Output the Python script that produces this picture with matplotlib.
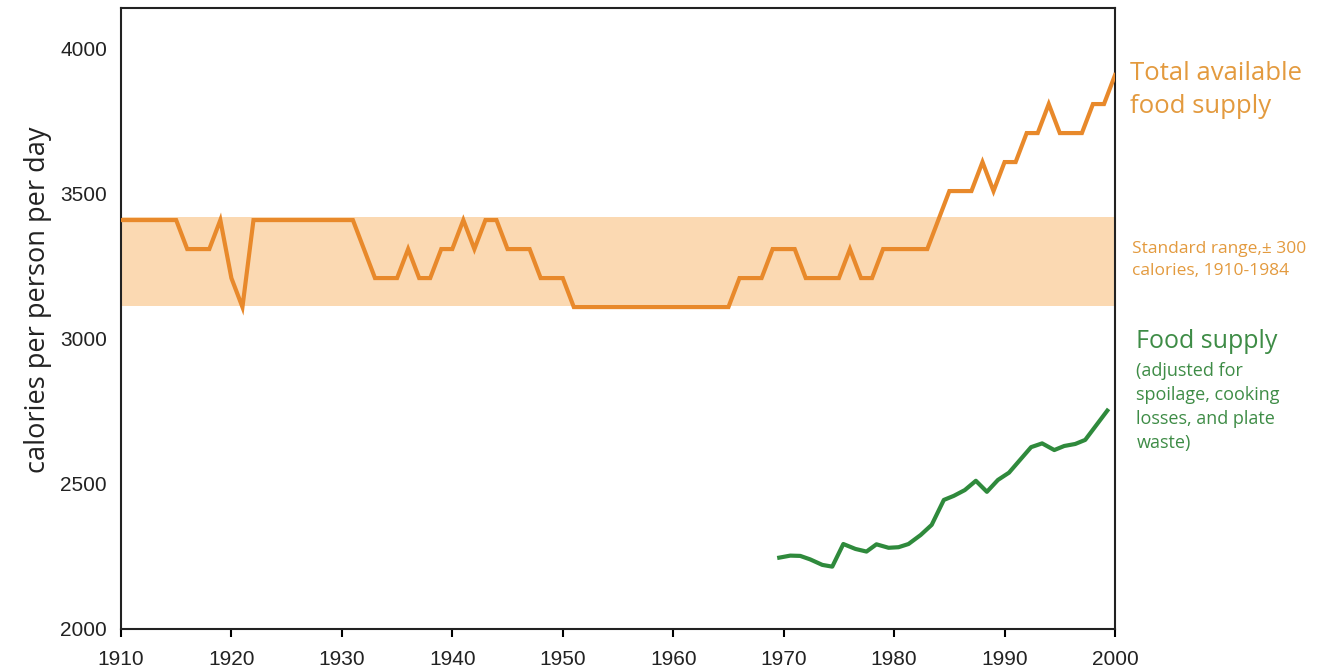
import matplotlib
matplotlib.use('Agg')
import matplotlib.pyplot as plt

# total available food supply, kcal per person per day
years = list(range(1910, 2001))
total_supply = [
    3410, 3410, 3410, 3410, 3410, 3410, 3310, 3310, 3310, 3410,  # 1910-1919
    3210, 3110, 3410, 3410, 3410, 3410, 3410, 3410, 3410, 3410,  # 1920-1929
    3410, 3410, 3310, 3210, 3210, 3210, 3310, 3210, 3210, 3310,  # 1930-1939
    3310, 3410, 3310, 3410, 3410, 3310, 3310, 3310, 3210, 3210,  # 1940-1949
    3210, 3110, 3110, 3110, 3110, 3110, 3110, 3110, 3110, 3110,  # 1950-1959
    3110, 3110, 3110, 3110, 3110, 3110, 3210, 3210, 3210, 3310,  # 1960-1969
    3310, 3310, 3210, 3210, 3210, 3210, 3310, 3210, 3210, 3310,  # 1970-1979
    3310, 3310, 3310, 3310, 3410, 3510, 3510, 3510, 3610, 3510,  # 1980-1989
    3610, 3610, 3710, 3710, 3810, 3710, 3710, 3710, 3810, 3810,  # 1990-1999
    3910,                                                        # 2000
]

# food supply adjusted for losses
adj_years = [1969.6, 1970.6, 1971.5, 1972.4, 1973.5, 1974.4, 1975.4, 1976.5,
             1977.5, 1978.4, 1979.5, 1980.4, 1981.3, 1982.4, 1983.4, 1984.5,
             1985.4, 1986.4, 1987.4, 1988.4, 1989.4, 1990.4, 1991.4, 1992.4,
             1993.4, 1994.5, 1995.4, 1996.4, 1997.3, 1999.3]
adj_supply = [2246, 2253, 2252, 2240, 2221, 2215, 2293, 2276,
              2267, 2292, 2280, 2282, 2293, 2324, 2359, 2445,
              2459, 2479, 2511, 2473, 2514, 2539, 2583, 2627,
              2640, 2617, 2631, 2638, 2652, 2753]

# standard range band
band_low, band_high = 3112, 3420

orange = '#E8892B'
orange_txt = '#E39A3E'
band_col = '#FBD9B2'
green = '#2F8A3C'
green_txt = '#3E8C46'

fig = plt.figure(figsize=(13.29, 6.72), dpi=100)
ax = fig.add_axes([0.091, 0.064, 0.748, 0.924])

ax.axhspan(band_low, band_high, color=band_col, lw=0, zorder=1)
ax.plot(years, total_supply, color=orange, lw=3, solid_joinstyle='miter', zorder=3)
ax.plot(adj_years, adj_supply, color=green, lw=3, zorder=3)

ax.set_xlim(1910, 2000)
ax.set_ylim(2000, 4141)
ax.set_xticks(range(1910, 2001, 10))
ax.set_yticks([2000, 2500, 3000, 3500, 4000])
for lab in ax.get_xticklabels() + ax.get_yticklabels():
    lab.set_fontfamily('Liberation Sans')
    lab.set_fontsize(15)
    lab.set_color('#222222')
ax.tick_params(axis='x', direction='out', length=6, width=1.5, pad=9)
ax.tick_params(axis='y', length=0, pad=10)
for sp in ax.spines.values():
    sp.set_linewidth(1.5)
    sp.set_color('#222222')

ax.set_ylabel('calories per person per day', fontfamily='Open Sans',
              fontsize=19.5, labelpad=14, color='#222222')
ax.yaxis.set_label_coords(-0.069, 0.53)

# annotations on the right
fig.text(0.850, 1 - 90 / 672, 'Total available\nfood supply', color=orange_txt,
         fontfamily='Open Sans', fontsize=18.5, va='center', ha='left', linespacing=1.38)
fig.text(0.852, 1 - 260 / 672, 'Standard range,\u00b1 300\ncalories, 1910-1984',
         color=orange_txt, fontfamily='Open Sans', fontsize=12.5, va='center',
         ha='left', linespacing=1.55)
fig.text(0.855, 1 - 342 / 672, 'Food supply', color=green_txt,
         fontfamily='Open Sans', fontsize=18, va='center', ha='left')
fig.text(0.855, 1 - 407 / 672,
         '(adjusted for\nspoilage, cooking\nlosses, and plate\nwaste)',
         color=green_txt, fontfamily='Open Sans', fontsize=13, va='center',
         ha='left', linespacing=1.45)

fig.savefig('out.png', dpi=100)
